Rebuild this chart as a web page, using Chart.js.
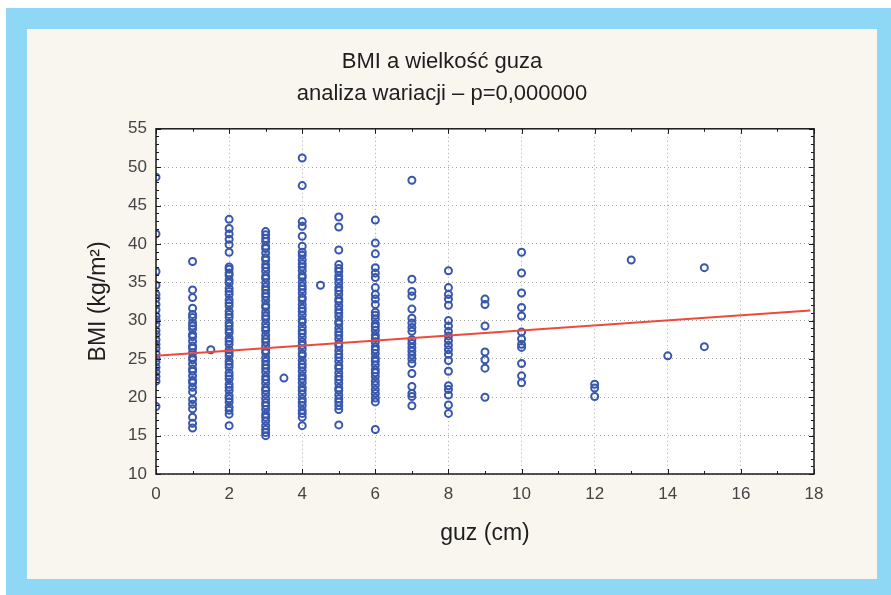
<!DOCTYPE html>
<html>
<head>
<meta charset="utf-8">
<script src="https://cdn.jsdelivr.net/npm/chart.js@4.4.1/dist/chart.umd.min.js"></script>
<style>
html,body{margin:0;padding:0;background:#ffffff;}
#wrap{width:891px;height:595px;position:relative;}
canvas{display:block;}
</style>
</head>
<body>
<div id="wrap"><canvas id="c" width="891" height="595"></canvas></div>
<script>
// ---- data ----
const titleLines = ['BMI a wielkość guza', 'analiza wariacji – p=0,000000'];
const xTitle = 'guz (cm)';
const yTitle = 'BMI (kg/m²)';
const xTickLabels = [0, 2, 4, 6, 8, 10, 12, 14, 16, 18];
const yTickLabels = [10, 15, 20, 25, 30, 35, 40, 45, 50, 55];

const tumourSizes = [0, 1, 1.5, 2, 3, 3.5, 4, 4.5, 5, 6, 7, 8, 9, 10, 12, 13, 14, 15];
const bmi_0 = [48.7, 41.3, 36.4, 34.6, 33.4, 32.9, 32.1, 31.4, 30.6, 30.1, 29.5, 28.7, 28.2, 27.5, 26.9, 26.4, 25.7, 25.1, 24.6, 23.9, 23.3, 22.7, 22.1, 18.8];
const bmi_1 = [37.7, 34.0, 33.0, 31.6, 30.8, 30.4, 29.7, 29.3, 28.9, 28.2, 27.9, 27.3, 26.7, 26.4, 25.8, 25.2, 24.9, 24.3, 23.7, 23.4, 22.8, 22.2, 21.9, 21.3, 20.7, 19.7, 19.1, 18.5, 17.4, 16.6, 16.0];
const bmi_1_5 = [26.2];
const bmi_2 = [43.2, 42.0, 41.3, 40.6, 39.9, 38.9, 37.0, 36.7, 36.2, 35.9, 35.3, 34.9, 34.2, 33.8, 33.4, 32.7, 32.3, 31.9, 31.2, 30.8, 30.4, 29.7, 29.3, 28.8, 28.4, 27.7, 27.3, 26.9, 26.2, 25.8, 25.4, 24.7, 24.3, 23.9, 23.2, 22.8, 22.4, 21.7, 21.3, 20.9, 20.2, 19.8, 19.4, 18.7, 18.3, 17.8, 16.3];
const bmi_3 = [41.6, 41.2, 40.7, 40.3, 39.7, 39.4, 38.8, 38.2, 37.9, 37.3, 36.9, 36.4, 35.8, 35.5, 34.9, 34.4, 34.0, 33.5, 33.1, 32.6, 32.0, 31.7, 31.1, 30.6, 30.2, 29.6, 29.1, 28.7, 28.1, 27.6, 27.2, 26.7, 26.1, 25.8, 25.2, 24.7, 24.2, 23.8, 23.3, 22.7, 22.3, 21.8, 21.2, 20.9, 20.4, 19.8, 19.3, 18.9, 18.4, 17.8, 17.4, 16.9, 16.3, 15.8, 15.4, 15.0];
const bmi_3_5 = [22.5];
const bmi_4 = [51.2, 47.6, 42.9, 42.3, 41.0, 39.7, 38.9, 38.5, 37.9, 37.4, 37.0, 36.5, 35.9, 35.6, 35.0, 34.5, 34.1, 33.6, 33.0, 32.7, 32.1, 31.6, 31.2, 30.7, 30.1, 29.8, 29.2, 28.7, 28.3, 27.8, 27.2, 26.8, 26.3, 25.7, 25.4, 24.8, 24.3, 23.9, 23.4, 22.8, 22.4, 21.9, 21.3, 20.9, 20.4, 19.8, 19.4, 18.9, 18.3, 17.9, 17.4, 16.3];
const bmi_4_5 = [34.6];
const bmi_5 = [43.5, 42.2, 39.2, 37.3, 36.8, 36.4, 35.8, 35.4, 34.9, 34.3, 33.9, 33.4, 32.8, 32.5, 31.9, 31.4, 31.0, 30.5, 29.9, 29.6, 29.0, 28.5, 28.1, 27.6, 27.0, 26.7, 26.1, 25.6, 25.2, 24.7, 24.1, 23.8, 23.2, 22.7, 22.3, 21.8, 21.2, 20.9, 20.3, 19.8, 19.4, 18.9, 18.4, 16.4];
const bmi_6 = [43.1, 40.1, 38.7, 36.9, 36.2, 35.6, 34.3, 33.4, 32.8, 32.1, 31.1, 30.7, 30.2, 29.6, 29.2, 28.7, 28.1, 27.7, 27.2, 26.6, 26.2, 25.7, 25.1, 24.7, 24.2, 23.6, 23.2, 22.7, 22.1, 21.6, 21.0, 20.5, 19.9, 19.4, 15.8];
const bmi_7 = [48.3, 35.4, 33.8, 33.2, 31.5, 30.3, 29.7, 29.1, 28.6, 27.5, 27.0, 26.5, 26.0, 25.5, 25.0, 24.4, 23.1, 21.4, 20.5, 20.1, 18.9];
const bmi_8 = [36.5, 34.3, 33.4, 32.8, 32.0, 30.0, 29.3, 28.6, 28.0, 27.4, 26.8, 26.2, 25.6, 24.8, 23.4, 21.5, 21.0, 20.3, 19.0, 17.9];
const bmi_9 = [32.8, 32.1, 29.3, 25.9, 24.9, 23.8, 20.0];
const bmi_10 = [38.9, 36.2, 33.6, 31.7, 30.6, 28.5, 27.6, 26.9, 26.5, 24.4, 22.8, 21.9];
const bmi_12 = [21.7, 21.2, 20.1];
const bmi_13 = [37.9];
const bmi_14 = [25.4];
const bmi_15 = [36.9, 26.6];
const bmiBySize = [bmi_0, bmi_1, bmi_1_5, bmi_2, bmi_3, bmi_3_5, bmi_4, bmi_4_5, bmi_5, bmi_6, bmi_7, bmi_8, bmi_9, bmi_10, bmi_12, bmi_13, bmi_14, bmi_15];

// regression line end points
const fitX = [0, 17.9];
const fitY = [25.4, 31.3];

// ---- build library data ----
const scatterPts = [];
tumourSizes.forEach((s, i) => bmiBySize[i].forEach(v => scatterPts.push({x: s, y: v})));
const fitPts = fitX.map((x, i) => ({x: x, y: fitY[i]}));

const tickFont = "'Liberation Sans Narrow', 'Liberation Sans', Arial, sans-serif";
const mainFont = "'Liberation Sans', Arial, sans-serif";

const bgPlugin = {
  id: 'bg',
  beforeDraw(chart) {
    const ctx = chart.ctx, a = chart.chartArea;
    ctx.save();
    ctx.fillStyle = '#ffffff';
    ctx.fillRect(0, 0, chart.width, chart.height);
    ctx.fillStyle = '#8ed8f6';
    ctx.fillRect(6, 8, chart.width - 6, chart.height - 8);
    ctx.fillStyle = '#f9f5ef';
    ctx.fillRect(27, 29, 850, 550);
    ctx.fillStyle = '#ffffff';
    ctx.fillRect(a.left, a.top, a.right - a.left, a.bottom - a.top);
    ctx.restore();
  },
  afterDatasetsDraw(chart) {
    const ctx = chart.ctx, a = chart.chartArea;
    const xs = chart.scales.x, ys = chart.scales.y;
    ctx.save();
    ctx.strokeStyle = '#1a1a1a';
    ctx.lineWidth = 1.5;
    ctx.strokeRect(a.left, a.top, a.right - a.left, a.bottom - a.top);
    ctx.lineWidth = 1;
    ctx.beginPath();
    for (let v = ys.min; v <= ys.max; v += 1) {
      const y = Math.round(ys.getPixelForValue(v)) + 0.5;
      const len = (v % 5 === 0) ? 5 : 3;
      ctx.moveTo(a.left, y); ctx.lineTo(a.left + len, y);
      ctx.moveTo(a.right, y); ctx.lineTo(a.right - len, y);
    }
    for (let v = xs.min; v <= xs.max; v += 1) {
      const x = Math.round(xs.getPixelForValue(v)) + 0.5;
      const len = (v % 2 === 0) ? 5 : 3;
      ctx.moveTo(x, a.bottom); ctx.lineTo(x, a.bottom - len);
      ctx.moveTo(x, a.top); ctx.lineTo(x, a.top + len);
    }
    ctx.stroke();
    ctx.restore();
  }
};

new Chart(document.getElementById('c'), {
  type: 'scatter',
  data: {
    datasets: [
      {
        type: 'line',
        data: fitPts,
        borderColor: '#ee4a3a',
        borderWidth: 2,
        pointRadius: 0,
        fill: false,
        order: 0
      },
      {
        type: 'scatter',
        data: scatterPts,
        pointRadius: 3.5,
        pointBorderWidth: 2,
        pointBorderColor: '#3857ad',
        pointBackgroundColor: 'rgba(0,0,0,0)',
        order: 1
      }
    ]
  },
  plugins: [bgPlugin],
  options: {
    responsive: false,
    animation: false,
    layout: { padding: { left: 70, right: 77, top: 0, bottom: 31 } },
    plugins: {
      legend: { display: false },
      tooltip: { enabled: false },
      title: {
        display: true,
        text: titleLines,
        color: '#1e1e1e',
        font: { family: mainFont, size: 22, weight: 'normal', lineHeight: 1.45 },
        padding: { top: 46, bottom: 19 }
      }
    },
    scales: {
      x: {
        type: 'linear',
        min: 0, max: 18,
        afterBuildTicks: (s) => { s.ticks = xTickLabels.map(v => ({value: v})); },
        afterFit: (s) => { s.height = 90; },
        grid: { color: '#a8a8a8', lineWidth: 1, drawTicks: false },
        border: { display: false, dash: [1, 3] },
        ticks: { color: '#444444', padding: 10, font: { family: tickFont, size: 17 } },
        title: { display: true, text: xTitle, color: '#1e1e1e', font: { family: mainFont, size: 23 }, padding: { top: 0, bottom: 17 } }
      },
      y: {
        type: 'linear',
        min: 10, max: 55,
        afterBuildTicks: (s) => { s.ticks = yTickLabels.map(v => ({value: v})); },
        afterFit: (s) => { s.width = 86; },
        grid: { color: '#a8a8a8', lineWidth: 1, drawTicks: false },
        border: { display: false, dash: [1, 3] },
        ticks: { color: '#444444', padding: 9, font: { family: tickFont, size: 17 } },
        title: { display: true, text: yTitle, color: '#1e1e1e', font: { family: mainFont, size: 23 }, padding: { top: 15, bottom: 0 } }
      }
    }
  }
});
</script>
</body>
</html>
